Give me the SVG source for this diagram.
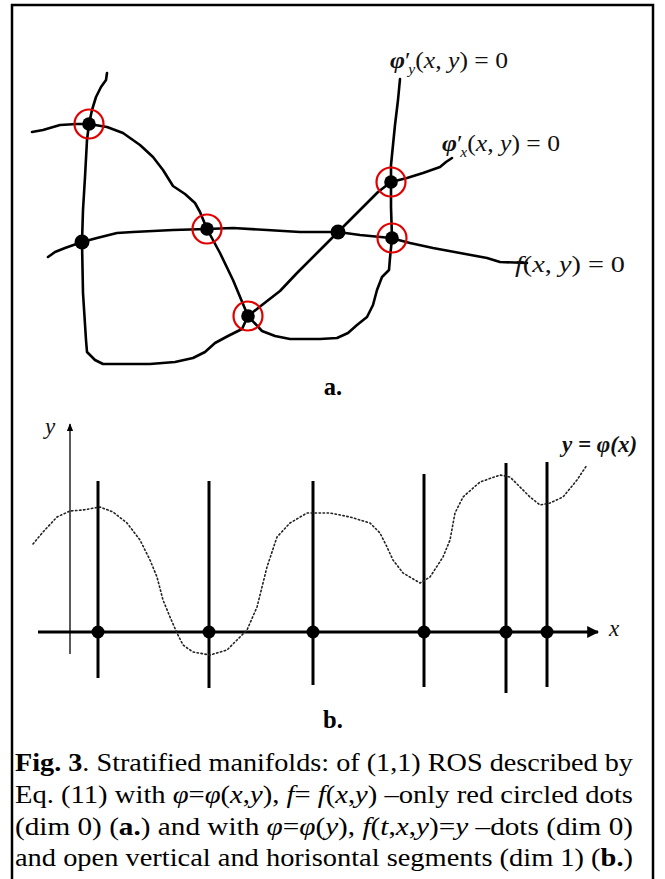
<svg xmlns="http://www.w3.org/2000/svg" width="665" height="879" viewBox="0 0 665 879">
<style>
  .curve { fill: none; stroke: #000; stroke-width: 2.6; stroke-linejoin: round; stroke-linecap: round; }
  .ring { fill: none; stroke: #e00000; stroke-width: 2.2; }
  .dot { fill: #000; }
  .lbl { font-family: 'Liberation Serif', 'Times New Roman', Times, serif; font-size: 23px; fill: #111; }
  .it { font-style: italic; }
  .bold { font-weight: bold; }
  .cap { font-family: 'Liberation Serif', 'Times New Roman', Times, serif; font-size: 24.5px; fill: #000; }
  .seg { stroke: #000; stroke-width: 3; }
  .dotted { fill: none; stroke: #222; stroke-width: 1.6; stroke-dasharray: 1.4 2.6; stroke-linecap: round; }
</style>
<defs>
  <marker id="arr" viewBox="0 0 10 10" refX="9" refY="5" markerWidth="4" markerHeight="4" orient="auto" markerUnits="strokeWidth">
    <path d="M0,0 L10,5 L0,10 z" fill="#000"/>
  </marker>
  <marker id="arrThin" viewBox="0 0 10 10" refX="9" refY="5" markerWidth="6" markerHeight="6" orient="auto" markerUnits="strokeWidth">
    <path d="M0,1 L10,5 L0,9 z" fill="#000"/>
  </marker>
</defs>

<rect x="12" y="5" width="641" height="890" fill="#fff" stroke="#000" stroke-width="2.5"/>

<g id="connectors">
  <path id="phi-y-left" class="curve" d="M107,73 L106,80 L101,87 L96,97 L92,110 L89,124 L87,140 L85,177 L83,210 L82,242 L83,293 L86,340 L87,352 L95,360 L103,364 L150,364 L175,362 L193,358 L205,352 L215,343 L228,336 L242,329 L248,316"/>
  <path id="phi-y-right" class="curve" d="M400,79 L398,100 L395,125 L393,145 L391,165 L391,182 L391,207 L392,238 L390,258 L389,270 L382,277 L377,290 L373,305 L367,317 L357,325 L348,333 L337,338 L320,339 L290,339 L275,336 L262,331 L248,316"/>
  <path id="phi-x" class="curve" d="M32,132 L43,130 L60,125 L77,124 L89,124 L107,127 L123,133 L140,145 L153,157 L163,170 L173,186 L185,194 L195,203 L200,212 L207,229 L220,253 L233,280 L248,316 L262,305 L280,291 L297,273 L317,253 L338,232 L360,210 L378,192 L391,182 L407,178 L423,173 L440,167 L446,162 L452,158"/>
  <path id="f" class="curve" d="M48,257 L55,252 L65,248 L82,242 L97,238 L117,233 L133,232 L173,230 L207,229 L233,228 L267,230 L300,232 L338,232 L360,235 L391,238 L410,243 L433,248 L460,253 L487,258 L500,262 L527,263"/>
</g>

<g id="node-p1"><circle class="dot" cx="89" cy="124" r="6.8"/><circle class="ring" cx="89" cy="124" r="14.5"/></g>
<g id="node-p2"><circle class="dot" cx="207" cy="229" r="6.8"/><circle class="ring" cx="207" cy="229" r="14.5"/></g>
<g id="node-p3"><circle class="dot" cx="248" cy="316" r="6.8"/><circle class="ring" cx="248" cy="316" r="14.5"/></g>
<g id="node-p4"><circle class="dot" cx="391" cy="182" r="6.8"/><circle class="ring" cx="391" cy="182" r="14.5"/></g>
<g id="node-p5"><circle class="dot" cx="392" cy="238" r="6.8"/><circle class="ring" cx="392" cy="238" r="14.5"/></g>
<g id="node-d1"><circle class="dot" cx="82" cy="242" r="7.5"/></g>
<g id="node-d2"><circle class="dot" cx="338" cy="232" r="7.5"/></g>

<g id="label-phiy">
  <text class="lbl" x="390" y="68" textLength="118" lengthAdjust="spacingAndGlyphs"><tspan class="it bold">φ</tspan>′<tspan class="it" dx="-2" dy="6" font-size="14">y</tspan><tspan dy="-6">(</tspan><tspan class="it">x</tspan>, <tspan class="it">y</tspan>) = 0</text>
</g>
<g id="label-phix">
  <text class="lbl" x="442" y="151" textLength="118" lengthAdjust="spacingAndGlyphs"><tspan class="it bold">φ</tspan>′<tspan class="it" dx="-2" dy="6" font-size="14">x</tspan><tspan dy="-6">(</tspan><tspan class="it">x</tspan>, <tspan class="it">y</tspan>) = 0</text>
</g>
<g id="label-f">
  <text class="lbl" x="515" y="272" textLength="110" lengthAdjust="spacingAndGlyphs"><tspan class="it">f</tspan>(<tspan class="it">x</tspan>, <tspan class="it">y</tspan>) = 0</text>
</g>

<text class="cap bold" x="333" y="395" text-anchor="middle" font-size="27">a.</text>

<g id="axes">
  <line x1="70" y1="654" x2="70" y2="424" stroke="#000" stroke-width="1.3" marker-end="url(#arrThin)"/>
  <line x1="38" y1="632" x2="598" y2="632" stroke="#000" stroke-width="3" marker-end="url(#arr)"/>
  <text class="lbl it" x="45" y="434" font-size="19">y</text>
  <text class="lbl it" x="609" y="636" font-size="19">x</text>
</g>

<g id="segments">
  <line class="seg" x1="98" y1="481" x2="98" y2="678"/>
  <line class="seg" x1="209" y1="481" x2="209" y2="688"/>
  <line class="seg" x1="313" y1="481" x2="313" y2="685"/>
  <line class="seg" x1="424" y1="474" x2="424" y2="687"/>
  <line class="seg" x1="506" y1="463" x2="506" y2="693"/>
  <line class="seg" x1="547" y1="462" x2="547" y2="687"/>
</g>

<path id="phi-curve" class="dotted" d="M33,544 L43,532 L57,517 L70,511 L83,510 L100,507 L113,512 L127,523 L140,540 L150,560 L157,577 L163,600 L170,617 L177,633 L183,645 L193,652 L210,655 L227,650 L240,637 L247,630 L257,607 L267,567 L277,537 L290,523 L307,513 L330,513 L350,517 L370,523 L380,533 L387,547 L393,560 L403,573 L420,583 L430,577 L443,557 L450,540 L455,513 L463,497 L480,482 L500,475 L510,477 L520,487 L530,497 L540,505 L550,503 L563,497 L577,480 L587,465"/>

<g id="b-dots">
  <circle class="dot" cx="98" cy="632" r="6.5"/>
  <circle class="dot" cx="209" cy="632" r="6.5"/>
  <circle class="dot" cx="313" cy="632" r="6.5"/>
  <circle class="dot" cx="424" cy="632" r="6.5"/>
  <circle class="dot" cx="506" cy="632" r="6.5"/>
  <circle class="dot" cx="547" cy="632" r="6.5"/>
</g>

<g id="label-yphi">
  <text class="lbl it bold" x="562" y="452" font-size="17">y = φ(x)</text>
</g>

<text class="cap bold" x="333" y="728" text-anchor="middle" font-size="25">b.</text>

<g id="caption" class="cap">
  <text x="15" y="771" textLength="618" lengthAdjust="spacingAndGlyphs"><tspan class="bold">Fig. 3</tspan>. Stratified manifolds: of (1,1) ROS described by</text>
  <text x="15" y="803" textLength="618" lengthAdjust="spacingAndGlyphs">Eq. (11) with <tspan class="it">φ</tspan>=<tspan class="it">φ</tspan>(<tspan class="it">x</tspan>,<tspan class="it">y</tspan>), <tspan class="it">f</tspan>= <tspan class="it">f</tspan>(<tspan class="it">x</tspan>,<tspan class="it">y</tspan>) –only red circled dots</text>
  <text x="15" y="835" textLength="618" lengthAdjust="spacingAndGlyphs">(dim 0) (<tspan class="bold">a.</tspan>) and with <tspan class="it">φ</tspan>=<tspan class="it">φ</tspan>(<tspan class="it">y</tspan>), <tspan class="it">f</tspan>(<tspan class="it">t</tspan>,<tspan class="it">x</tspan>,<tspan class="it">y</tspan>)=<tspan class="it">y</tspan> –dots (dim 0)</text>
  <text x="15" y="866" textLength="618" lengthAdjust="spacingAndGlyphs">and open vertical and horisontal segments (dim 1) (<tspan class="bold">b.</tspan>)</text>
</g>
</svg>
